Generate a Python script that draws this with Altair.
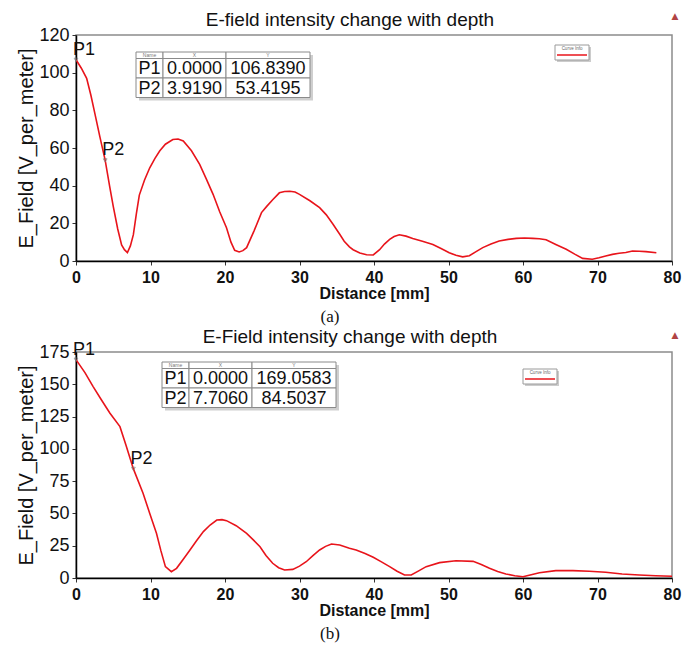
import altair as alt
import pandas as pd

# ---------------- data ----------------
a_dist = [0, 0.7, 1.43, 2.0, 2.55, 3.2, 3.919, 4.5, 5.0, 5.6, 6.12, 6.5, 6.9, 7.3, 7.7, 8.1, 8.5,
          9.2, 9.9, 10.6, 11.25, 12.0, 13.0, 13.7, 14.4, 15.5, 16.6, 17.5, 18.4, 19.3, 20.2, 20.8,
          21.3, 21.9, 22.4, 22.9, 23.9, 24.9, 25.6, 26.4, 27.3, 28.0, 28.7, 29.4, 30.0, 31.4, 32.7,
          33.6, 34.5, 35.4, 36.0, 36.7, 37.2, 38.1, 39.0, 39.9, 40.75, 41.4, 42.1, 42.7, 43.4, 44.3,
          45.2, 46.5, 47.9, 49.0, 50.1, 51.0, 51.9, 52.8, 53.7, 54.6, 55.7, 56.8, 58.0, 59.1, 60.2,
          61.3, 62.2, 63.1, 64.4, 65.8, 67.0, 68.0, 69.3, 70.2, 71.1, 72.0, 72.9, 73.8, 74.7, 75.6,
          76.5, 77.9]
a_field = [106.84, 102.5, 97, 88, 78, 66, 53.42, 40, 29, 17, 8.5, 6, 4.5, 8, 14, 25, 35,
           43, 49.5, 54.5, 58.5, 62, 64.5, 64.8, 63.7, 58.5, 51.3, 43.5, 35.4, 26, 17.7, 10,
           5.7, 4.8, 5.5, 7.1, 16, 25.7, 29, 32.5, 36.2, 36.9, 37, 36.6, 35.4, 32, 28.3,
           24.5, 19.5, 14.2, 10.5, 7.5, 6, 4.3, 3.3, 3.2, 6, 9, 11.5, 13, 13.9, 13.2,
           12, 10.5, 8.8, 6.6, 4.4, 3, 2.2, 2.8, 5, 7.1, 9, 10.6, 11.5, 12, 12.2,
           12, 11.8, 11.3, 8.8, 6.2, 3.5, 1.4, 0.9, 1.7, 2.7, 3.5, 4.1, 4.5, 5.3, 5.2,
           5, 4.4]

b_dist = [0, 1.2, 2.3, 3.4, 4.56, 5.9, 6.7, 7.706, 9.0, 9.9, 10.8, 11.4, 12.0, 12.8, 13.5, 14.4,
          15.3, 16.2, 17.1, 18.0, 18.9, 19.6, 20.2, 21.5, 22.9, 23.8, 24.7, 25.5, 26.4, 27.2, 28.0,
          29.1, 30.0, 30.9, 31.8, 32.7, 33.5, 34.3, 35.4, 36.7, 37.6, 38.8, 39.9, 41.0, 42.1, 43.1,
          44.1, 45.0, 46.0, 47.0, 48.8, 51.0, 53.3, 54.4, 55.5, 56.6, 57.7, 58.9, 60.0, 61.1, 62.2,
          64.4, 66.7, 68.9, 71.1, 73.3, 75.6, 77.8, 80.0]
b_field = [169.06, 159, 148.2, 138, 127.6, 117.2, 103, 84.5, 65.6, 50, 34.6, 21, 8.8, 4.9, 7.5, 14.5,
           21.7, 29, 35.9, 41, 44.9, 45.2, 44.4, 40.5, 34.6, 29.5, 24.2, 17.5, 11.4, 8, 6.2,
           6.7, 9.2, 12.6, 17.3, 21.7, 24.5, 26.3, 25.6, 23, 21.7, 19, 16, 12.5, 8.8, 5.2,
           2.3, 2.3, 5.5, 8.8, 11.9, 13.4, 12.9, 10.5, 7.5, 5, 3.1, 1.8, 1, 2.5, 4.1,
           5.7, 5.7, 5.2, 4.4, 3.1, 2.3, 1.8, 1.3]

marker_names = ["P1", "P2"]
a_marker_x = [0.0, 3.919]
a_marker_y = [106.8390, 53.4195]
b_marker_x = [0.0, 7.706]
b_marker_y = [169.0583, 84.5037]

titles = ["E-field intensity change with depth", "E-Field intensity change with depth"]
panel_labels = ["(a)", "(b)"]
table_headers = ["Name", "X", "Y"]
legend_label = "Curve Info"
x_ticks = [0, 10, 20, 30, 40, 50, 60, 70, 80]
a_y_ticks = [0, 20, 40, 60, 80, 100, 120]
b_y_ticks = [0, 25, 50, 75, 100, 125, 150, 175]

# ---------------- layout / style ----------------
W, H = 596, 226
FONT = "Liberation Sans"
RED = "#e8141b"


def table_layers(names, xs, ys, left, top):
    widths = [27, 63, 84]
    head_h, row_h = 6.5, 19.5
    edges = [left]
    for w in widths:
        edges.append(edges[-1] + w)
    rows = []
    texts = []
    for c in range(3):
        rows.append(dict(x0=edges[c], x1=edges[c + 1], y0=top, y1=top + head_h))
        texts.append(dict(t=table_headers[c], cx=(edges[c] + edges[c + 1]) / 2,
                          cy=top + head_h / 2, s=5))
    for r in range(len(names)):
        vals = [names[r], f"{xs[r]:.4f}", f"{ys[r]:.4f}"]
        y0 = top + head_h + r * row_h
        for c in range(3):
            rows.append(dict(x0=edges[c], x1=edges[c + 1], y0=y0, y1=y0 + row_h))
            texts.append(dict(t=vals[c], cx=(edges[c] + edges[c + 1]) / 2,
                              cy=y0 + row_h / 2 + 1, s=18))
    bottom = top + head_h + len(names) * row_h
    shadow = pd.DataFrame([dict(x0=edges[0] + 3, x1=edges[-1] + 3, y0=top + 3, y1=bottom + 3)])
    cells = pd.DataFrame(rows)
    tx = pd.DataFrame(texts)
    sh = alt.Chart(shadow).mark_rect(color="#cfcfcf").encode(
        x=alt.X("x0:Q", scale=None), x2="x1", y=alt.Y("y0:Q", scale=None), y2="y1")
    ce = alt.Chart(cells).mark_rect(fill="white", stroke="#8a8a8a", strokeWidth=1).encode(
        x=alt.X("x0:Q", scale=None), x2="x1", y=alt.Y("y0:Q", scale=None), y2="y1")
    big = alt.Chart(tx[tx.s > 10]).mark_text(font=FONT, fontSize=18, color="#111",
                                             baseline="middle", align="center").encode(
        x=alt.X("cx:Q", scale=None), y=alt.Y("cy:Q", scale=None), text="t:N")
    small = alt.Chart(tx[tx.s < 10]).mark_text(font=FONT, fontSize=5, color="#777",
                                               baseline="middle", align="center").encode(
        x=alt.X("cx:Q", scale=None), y=alt.Y("cy:Q", scale=None), text="t:N")
    return [sh, ce, big, small]


def legend_layers(left, top):
    w, h = 34, 15
    df = pd.DataFrame({"t": [legend_label]})
    sh = alt.Chart(df).mark_rect(color="#cccccc").encode(
        x=alt.value(left + 2), x2=alt.value(left + w + 2), y=alt.value(top + 2), y2=alt.value(top + h + 2))
    box = alt.Chart(df).mark_rect(fill="white", stroke="#9a9a9a", strokeWidth=1).encode(
        x=alt.value(left), x2=alt.value(left + w), y=alt.value(top), y2=alt.value(top + h))
    txt = alt.Chart(df).mark_text(font=FONT, fontSize=4.5, color="#666").encode(
        x=alt.value(left + w / 2), y=alt.value(top + 4), text="t:N")
    line = alt.Chart(df).mark_rule(color=RED, strokeWidth=1.5).encode(
        x=alt.value(left + 2), x2=alt.value(left + w - 2), y=alt.value(top + 10))
    return [sh, box, txt, line]


def panel(dist, field, mx, my, title, ymax, yticks, label, table_pos, legend_pos, tri_y):
    curve = pd.DataFrame({"d": dist, "e": field})
    marks = pd.DataFrame({"n": marker_names, "x": mx, "y": my})
    xaxis = alt.Axis(values=x_ticks, title="Distance [mm]", labelFontWeight="bold",
                     labelFontSize=16, titleFontSize=16, titleFontWeight="bold",
                     labelPadding=4, titlePadding=0, tickSize=4, labelColor="#111",
                     titleColor="#111", labelFlush=False, labelOverlap=False)
    yaxis = alt.Axis(values=yticks, title="E_Field [V_per_meter]", labelFontSize=18,
                     titleFontSize=20, titleFontWeight="normal", labelPadding=3,
                     titlePadding=2, tickSize=4, labelColor="#111", titleColor="#111",
                     labelFlush=False, labelOverlap=False)
    xsc = alt.Scale(domain=[0, 80], nice=False)
    ysc = alt.Scale(domain=[0, ymax], nice=False)
    line = alt.Chart(curve).mark_line(color=RED, strokeWidth=1.6, clip=True).encode(
        x=alt.X("d:Q", scale=xsc, axis=xaxis), y=alt.Y("e:Q", scale=ysc, axis=yaxis))
    pts = alt.Chart(marks).mark_point(shape="triangle-down", size=14, filled=False,
                                      color="#777", strokeWidth=1).encode(
        x=alt.X("x:Q", scale=xsc, axis=xaxis), y=alt.Y("y:Q", scale=ysc, axis=yaxis))
    lbl = alt.Chart(marks).mark_text(font=FONT, fontSize=18, color="#111", align="left",
                                     baseline="alphabetic", dx=-3, dy=-5).encode(
        x=alt.X("x:Q", scale=xsc, axis=xaxis), y=alt.Y("y:Q", scale=ysc, axis=yaxis), text="n:N")
    ttl = alt.Chart(pd.DataFrame({"t": [title]})).mark_text(
        font=FONT, fontSize=19, color="#111", baseline="alphabetic", align="center").encode(
        x=alt.value(W / 2 - 24), y=alt.value(-9), text="t:N")
    tri = alt.Chart(pd.DataFrame({"t": ["▲"]})).mark_text(
        font="DejaVu Sans", fontSize=9, color="#b04444").encode(
        x=alt.value(599), y=alt.value(tri_y), text="t:N")
    lab = alt.Chart(pd.DataFrame({"t": [label]})).mark_text(
        font="Liberation Serif", fontSize=17, color="#111").encode(
        x=alt.value(254), y=alt.value(282), text="t:N")
    layers = [line, pts, lbl] + table_layers(marker_names, mx, my, *table_pos) \
        + legend_layers(*legend_pos) + [ttl, tri, lab]
    return alt.layer(*layers).properties(width=W, height=H)


pa = panel(a_dist, a_field, a_marker_x, a_marker_y, titles[0], 120, a_y_ticks, panel_labels[0],
           (60, 17), (479, 10), -19)
pb = panel(b_dist, b_field, b_marker_x, b_marker_y, titles[1], 175, b_y_ticks, panel_labels[1],
           (86, 10), (447, 17), -17)

chart = alt.vconcat(pa, pb, spacing=1).properties(
    padding={"left": 8, "top": 2, "right": 5, "bottom": 2}
).configure_view(stroke="#8c8c8c", strokeWidth=1.5).configure_axis(
    domainColor="black", domainWidth=1.5, tickColor="#333", grid=False,
    labelFont=FONT, titleFont=FONT, labelOverlap=False
)

chart.save("out.html", embed_options={"renderer": "svg", "actions": False})
